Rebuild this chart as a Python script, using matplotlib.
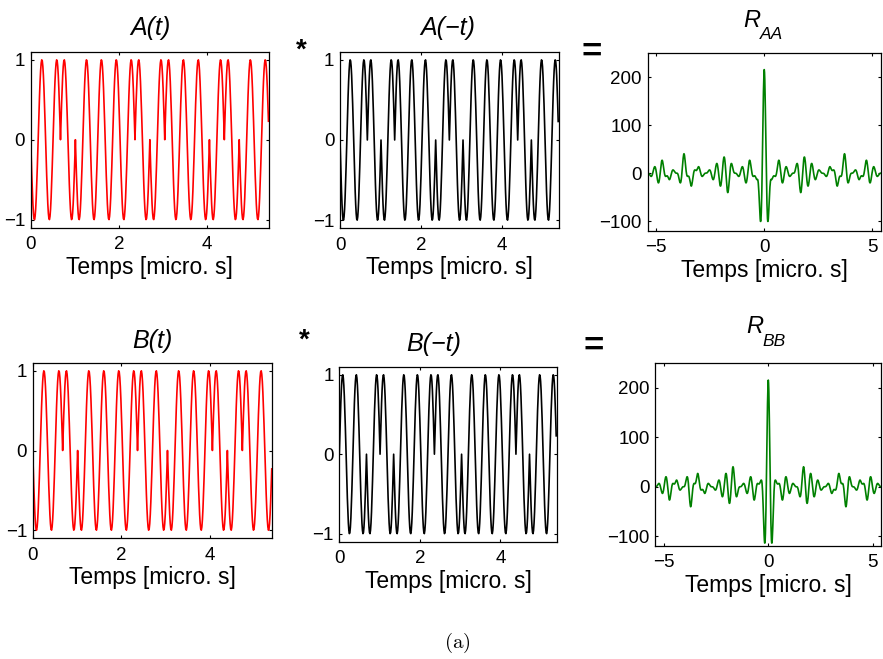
import numpy as np
import matplotlib
matplotlib.use('Agg')
import matplotlib.pyplot as plt

plt.rcParams['font.family'] = ['Liberation Sans', 'DejaVu Sans']

# codes de phase (un bit par periode de porteuse)
code_A = [-1, -1, 1, -1, -1, -1, -1, 1, -1, 1, 1, 1, -1, 1, -1, -1]
code_A_rev = [-1, -1, 1, -1, 1, 1, 1, -1, 1, -1, -1, -1, -1, 1, -1, -1]
code_B = [-1, -1, 1, -1, -1, -1, -1, 1, 1, -1, -1, -1, 1, -1, 1, 1]
code_B_rev = [1, 1, -1, 1, -1, -1, -1, 1, 1, -1, -1, -1, -1, 1, -1, -1]

duree = 5.4      # micro s
n_per = 27       # echantillons par periode
x_ticks = [0, 2, 4]
y_ticks = [-1, 0, 1]
r_xticks = [-5, 0, 5]
r_yticks = [-100, 0, 100, 200]
xlab = 'Temps [micro. s]'

W, H = 883, 659


def box(l, r, t, b):
    return [l / W, 1 - b / H, (r - l) / W, (b - t) / H]


def signal(code):
    n = len(code) * n_per
    t = np.arange(n) * duree / n
    phase = (np.arange(n) % n_per) / n_per
    return t, np.repeat(code, n_per) * np.sin(2 * np.pi * phase)


def autocorr(code):
    t, s = signal(code)
    n = len(s)
    dt = t[1] - t[0]
    return np.arange(-n + 1, n) * dt, np.correlate(s, s, 'full')


def style(ax):
    ax.tick_params(direction='in', top=True, right=True, length=2.5, width=0.8,
                   labelsize=13.5)
    ax.tick_params(axis='x', pad=6)
    ax.tick_params(axis='y', pad=4)
    for sp in ax.spines.values():
        sp.set_linewidth(0.9)
    ax.set_xlabel(xlab, fontsize=16.5, labelpad=2)


fig = plt.figure(figsize=(W / 100, H / 100), dpi=100)

panels = [
    (code_A, 'red', box(30.7, 269, 51.7, 227.7)),
    (code_A_rev, 'black', box(340, 558.7, 51.7, 228.3)),
    (code_B, 'red', box(32.7, 272.3, 362.7, 538.3)),
    (code_B_rev, 'black', box(339.3, 556.7, 366.7, 541.7)),
]
for code, col, pos in panels:
    ax = fig.add_axes(pos)
    t, s = signal(code)
    ax.plot(t, s, color=col, lw=1.2)
    ax.set_xlim(0, duree)
    ax.set_ylim(-1.1, 1.1)
    ax.set_xticks(x_ticks)
    ax.set_yticks(y_ticks)
    style(ax)

for code, pos in [(code_A, box(647.5, 881, 53.3, 230.7)),
                  (code_B, box(655.4, 881.2, 363.3, 546))]:
    ax = fig.add_axes(pos)
    lag, r = autocorr(code)
    ax.plot(lag, r, color='#008000', lw=1.2)
    ax.set_xlim(-5.4, 5.4)
    ax.set_ylim(-120, 250)
    ax.set_xticks(r_xticks)
    ax.set_yticks(r_yticks)
    style(ax)


def ftext(x, y, s, **kw):
    fig.text(x / W, 1 - y / H, s, **kw)


ftext(150, 35, 'A(t)', fontsize=18, style='italic', ha='center', va='baseline')
ftext(448, 35, 'A(\u2212t)', fontsize=18, style='italic', ha='center', va='baseline')
ftext(152, 348, 'B(t)', fontsize=18, style='italic', ha='center', va='baseline')
ftext(434, 351, 'B(\u2212t)', fontsize=18, style='italic', ha='center', va='baseline')

ftext(743, 27, 'R', fontsize=17, style='italic', ha='left', va='baseline')
ftext(759.5, 39, 'AA', fontsize=12.5, style='italic', ha='left', va='baseline')
ftext(746.5, 333, 'R', fontsize=17, style='italic', ha='left', va='baseline')
ftext(762, 346, 'BB', fontsize=12.5, style='italic', ha='left', va='baseline')

ftext(301.7, 51, '*', fontsize=20, weight='bold', ha='center', va='center')
ftext(304, 341, '*', fontsize=20, weight='bold', ha='center', va='center')
ftext(591.7, 51.7, '=', fontsize=25, weight='bold', ha='center', va='center')
ftext(594, 345.8, '=', fontsize=25, weight='bold', ha='center', va='center')

ftext(457, 643, r'$\mathrm{(a)}$', math_fontfamily='cm', fontsize=15,
      ha='center', va='center')

plt.savefig('out.png', dpi=100)
